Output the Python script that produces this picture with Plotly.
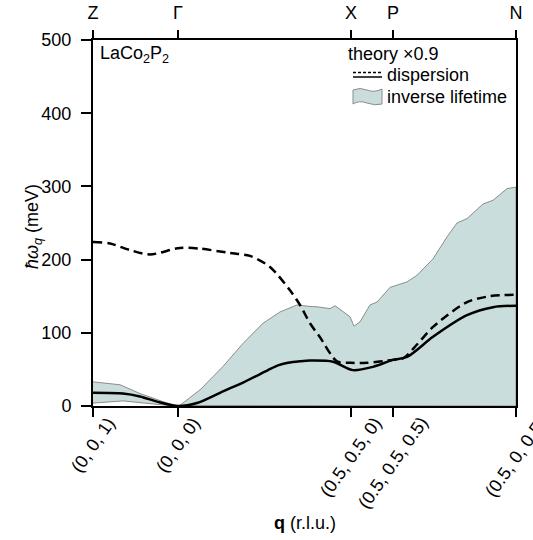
import plotly.graph_objects as go

# High-symmetry points along the path (path length, arbitrary units)
point_pos = [0.0, 0.85, 2.58, 3.00, 4.23]
point_names = ["Z", "Γ", "X", "P", "N"]
point_q = ["(0, 0, 1)", "(0, 0, 0)", "(0.5, 0.5, 0)", "(0.5, 0.5, 0.5)", "(0.5, 0, 0.5)"]

# Theoretical dispersion (scaled by 0.9), meV
disp_x = [0.00, 0.17, 0.37, 0.57, 0.87, 1.07, 1.37, 1.57, 1.77, 1.97, 2.07, 2.17,
          2.27, 2.44, 2.58, 2.74, 3.00, 3.10, 3.24, 3.40, 3.74, 3.97, 4.23]
disp_y = [224, 222, 213, 207, 216, 215, 209, 205, 190, 158, 138, 113,
          94, 61, 59, 59, 63, 65, 84, 108, 142, 150, 152]

# Measured magnon energies, meV
mag_x = [0.00, 0.30, 0.47, 0.64, 0.85, 1.04, 1.30, 1.50, 1.75, 1.85, 1.95, 2.07,
         2.17, 2.40, 2.60, 2.80, 3.00, 3.14, 3.40, 3.74, 4.00, 4.23]
mag_y = [18, 17, 13, 6, 0, 4, 20, 32, 49, 55.5, 59, 61,
         62, 60.5, 49, 53.5, 63, 67, 94.5, 124, 135, 137]

# Inverse lifetime band: upper and lower edges, meV
band_up_x = [0.00, 0.27, 0.47, 0.74, 0.85, 0.87, 1.07, 1.30, 1.50, 1.70, 1.87, 2.04,
             2.17, 2.24, 2.37, 2.42, 2.57, 2.61, 2.67, 2.77, 2.84, 2.97, 3.14, 3.24,
             3.40, 3.54, 3.64, 3.74, 3.90, 4.00, 4.14, 4.23]
band_up_y = [33, 29, 17, 4, 0, 1, 22, 54, 85.5, 113, 128.5, 138,
             136, 135.5, 133, 137, 122, 109, 115, 138, 142, 162, 169.5, 178.5,
             201, 231, 250, 256, 276, 281, 297, 299]
band_lo_x = [0.00, 0.15, 0.30, 0.45, 0.64, 0.75, 0.85, 4.23]
band_lo_y = [4, 5.5, 7, 5, 2.3, 0.8, 0, 0]

y_ticks = [0, 100, 200, 300, 400, 500]

FONT = "Liberation Sans, Arial, sans-serif"
FS = 18
BAND_FILL = "#c9dedc"
BAND_EDGE = "#8c8c8c"

fig = go.Figure()

fig.add_trace(go.Scatter(
    x=band_up_x + band_lo_x[::-1],
    y=band_up_y + band_lo_y[::-1],
    fill="toself", fillcolor=BAND_FILL,
    line=dict(color=BAND_EDGE, width=1),
    mode="lines", hoverinfo="skip", showlegend=False,
))
fig.add_trace(go.Scatter(
    x=disp_x, y=disp_y, mode="lines",
    line=dict(color="black", width=2.5, dash="9px,5px", shape="spline", smoothing=0.8),
    showlegend=False,
))
fig.add_trace(go.Scatter(
    x=mag_x, y=mag_y, mode="lines",
    line=dict(color="black", width=2.5, shape="spline", smoothing=0.8),
    showlegend=False,
))
# invisible trace to drive the top axis
fig.add_trace(go.Scatter(x=[point_pos[0], point_pos[-1]], y=[None, None],
                         xaxis="x2", mode="lines", showlegend=False, hoverinfo="skip"))

X0, X1 = point_pos[0], point_pos[-1]

fig.update_layout(
    width=533, height=540,
    margin=dict(l=93, r=17, t=40, b=134),
    paper_bgcolor="white", plot_bgcolor="white",
    font=dict(family=FONT, size=FS, color="black"),
    xaxis=dict(
        range=[X0, X1], tickmode="array", tickvals=point_pos, showticklabels=False,
        ticks="outside", ticklen=9, tickwidth=2, tickcolor="black",
        showline=True, linewidth=2, linecolor="black", mirror=True,
        showgrid=False, zeroline=False, automargin=False,
    ),
    xaxis2=dict(
        range=[X0, X1], overlaying="x", side="top", anchor="y",
        tickmode="array", tickvals=point_pos, ticktext=point_names,
        ticks="outside", ticklen=9, tickwidth=2, tickcolor="black",
        showline=False, showgrid=False, zeroline=False, automargin=False,
        ticklabelstandoff=4, tickfont=dict(size=FS),
    ),
    yaxis=dict(
        range=[0, 500], tickmode="array", tickvals=y_ticks,
        ticks="outside", ticklen=10, tickwidth=2, tickcolor="black",
        showline=True, linewidth=2, linecolor="black", mirror=True,
        showgrid=False, zeroline=False, ticklabelstandoff=6, automargin=False,
    ),
)


def px(xp):
    return (xp - 93) / 423


def py(yp):
    return (406 - yp) / 366


annotations = [
    dict(text="LaCo<sub>2</sub>P<sub>2</sub>", x=px(98), y=py(54),
         xanchor="left", yanchor="middle"),
    dict(text="theory ×0.9", x=px(346), y=py(54),
         xanchor="left", yanchor="middle"),
    dict(text="dispersion", x=px(385), y=py(75),
         xanchor="left", yanchor="middle"),
    dict(text="inverse lifetime", x=px(385), y=py(97),
         xanchor="left", yanchor="middle"),
    dict(text="<b>q</b> (r.l.u.)", x=0.5, y=py(523),
         xanchor="center", yanchor="middle"),
    dict(text="<i>ħω<sub>q</sub></i> (meV)", x=px(33), y=py(226),
         xanchor="center", yanchor="middle", textangle=-90),
]
for a in annotations:
    a.update(xref="paper", yref="paper")

# rotated wave-vector labels under the ticks
for pos, lab in zip(point_pos, point_q):
    annotations.append(dict(text=lab, x=pos, xref="x", y=py(411), yref="paper",
                            xanchor="center", yanchor="top", textangle=-55))

for a in annotations:
    a.update(showarrow=False, font=dict(family=FONT, size=FS))
fig.update_layout(annotations=annotations)

# legend glyphs
shapes = [
    dict(type="line", x0=px(353), x1=px(382), y0=py(72.5), y1=py(72.5),
         line=dict(color="black", width=1.5, dash="3px,2px")),
    dict(type="line", x0=px(353), x1=px(382), y0=py(77), y1=py(77),
         line=dict(color="black", width=1.5)),
]
patch = (f"M {px(353)},{py(90)} "
         f"Q {px(360)},{py(87)} {px(367)},{py(90)} "
         f"T {px(382)},{py(89)} "
         f"L {px(382)},{py(104)} "
         f"Q {px(375)},{py(106)} {px(367)},{py(103)} "
         f"T {px(353)},{py(104)} Z")
shapes.append(dict(type="path", path=patch, fillcolor=BAND_FILL,
                   line=dict(color=BAND_EDGE, width=1)))
for s in shapes:
    s.update(xref="paper", yref="paper")
fig.update_layout(shapes=shapes)

fig.write_html("out.html")
